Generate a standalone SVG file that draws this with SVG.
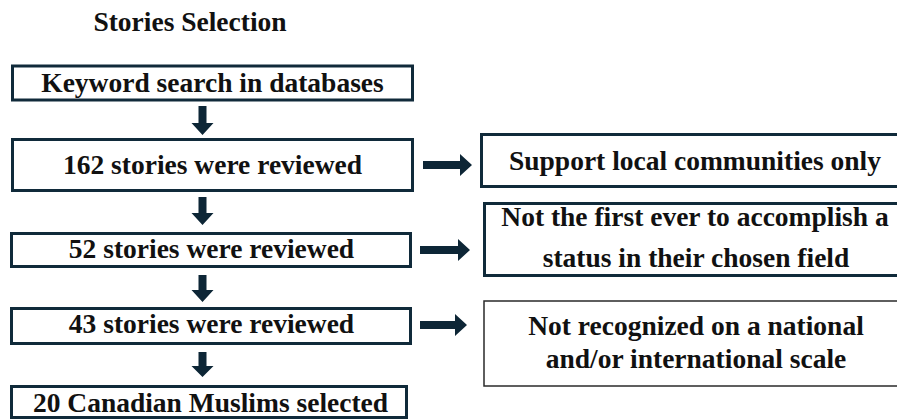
<svg xmlns="http://www.w3.org/2000/svg" width="897" height="419" viewBox="0 0 897 419">
  <style>
    .box { fill: #ffffff; stroke: #102a3a; stroke-width: 3; }
    .thin { fill: #ffffff; stroke: #2a2a2a; stroke-width: 1.5; }
    .arrow { fill: #0d2636; stroke: none; }
    .t { font-family: 'Liberation Serif', 'DejaVu Serif', 'Times New Roman', Times, serif; font-weight: 700; font-size: 27.5px; fill: #111111; text-anchor: middle; }
  </style>
  <rect x="0" y="0" width="897" height="419" fill="#ffffff"/>
  <g id="title">
    <text class="t" x="190" y="30.5">Stories Selection</text>
  </g>
  <g id="node-keyword">
    <rect class="box" x="12.5" y="66" width="400" height="34"/>
    <text class="t" x="212.5" y="92">Keyword search in databases</text>
  </g>
  <g id="node-162">
    <rect class="box" x="12.5" y="139.5" width="400" height="51"/>
    <text class="t" x="212.5" y="174">162 stories were reviewed</text>
  </g>
  <g id="node-52">
    <rect class="box" x="11.5" y="233.5" width="399" height="33"/>
    <text class="t" x="211.5" y="258">52 stories were reviewed</text>
  </g>
  <g id="node-43">
    <rect class="box" x="11.5" y="308.5" width="399" height="35"/>
    <text class="t" x="211.5" y="333">43 stories were reviewed</text>
  </g>
  <g id="node-20">
    <rect class="box" x="11.5" y="386.5" width="395" height="31"/>
    <text class="t" x="210.5" y="411.5">20 Canadian Muslims selected</text>
  </g>
  <g id="node-local">
    <rect class="box" x="481.5" y="134.5" width="430" height="52"/>
    <text class="t" x="695" y="170">Support local communities only</text>
  </g>
  <g id="node-first">
    <rect class="box" x="484.5" y="203.5" width="430" height="72"/>
    <text class="t" x="695" y="226">Not the first ever to accomplish a</text>
    <text class="t" x="696" y="267">status in their chosen field</text>
  </g>
  <g id="node-recognized">
    <rect class="thin" x="484" y="301" width="430" height="85"/>
    <text class="t" x="696" y="335">Not recognized on a national</text>
    <text class="t" x="696" y="368">and/or international scale</text>
  </g>
  <g id="connectors">
    <path class="arrow" d="M198.5,106 H206.5 V123 H213.5 L202.5,135 L191.5,123 H198.5 Z"/>
    <path class="arrow" d="M198.5,197 H206.5 V213 H213.5 L202.5,225 L191.5,213 H198.5 Z"/>
    <path class="arrow" d="M198.5,275 H206.5 V290 H213.5 L202.5,302 L191.5,290 H198.5 Z"/>
    <path class="arrow" d="M198.5,352 H206.5 V366 H213.5 L202.5,377 L191.5,366 H198.5 Z"/>
    <path class="arrow" d="M423,161 H460 V154 L472,165 L460,176 V169 H423 Z"/>
    <path class="arrow" d="M420,246 H458 V239 L470,250 L458,261 V254 H420 Z"/>
    <path class="arrow" d="M420,321 H455 V314 L467,325 L455,336 V329 H420 Z"/>
  </g>
</svg>
